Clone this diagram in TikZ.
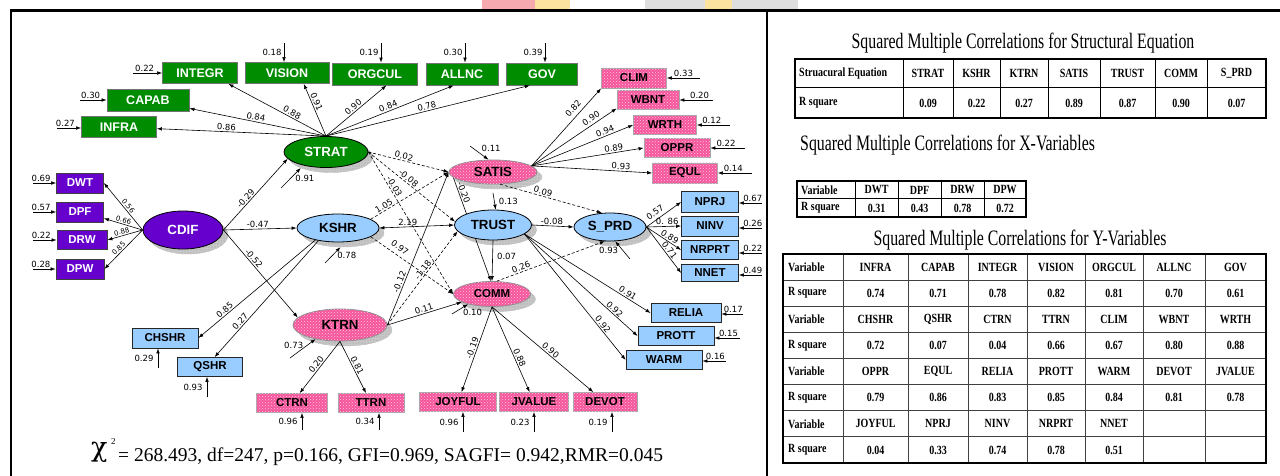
\documentclass[tikz,border=0pt]{standalone}
\usepackage{fontspec}
\setmainfont{Liberation Serif}
\newfontfamily\lsans{Liberation Sans}
\newfontfamily\dnum{DejaVu Sans}
\newfontfamily\chifont{DejaVu Serif}
\newfontfamily\condser[FakeStretch=0.72]{Liberation Serif}
\newfontfamily\condtab[FakeStretch=0.8]{Liberation Serif}
\usetikzlibrary{shapes.geometric,arrows.meta,patterns,calc}
\pgfdeclarelayer{bg}
\pgfsetlayers{bg,main}

\definecolor{sgreen}{RGB}{0,140,0}
\definecolor{spurple}{RGB}{102,0,204}
\definecolor{sblue}{RGB}{153,204,255}
\definecolor{spink}{RGB}{245,85,155}
\definecolor{spinklt}{RGB}{255,200,225}
\definecolor{shgray}{RGB}{190,190,190}
\definecolor{wmred}{RGB}{246,170,175}
\definecolor{wmyellow}{RGB}{252,228,160}
\definecolor{wmgray}{RGB}{222,222,222}

\tikzset{
  >={Latex[length=5pt,width=3.6pt]},
  conn/.style={->, line width=0.6pt},
  dconn/.style={conn, dash pattern=on 3pt off 2pt},
  err/.style={->, line width=0.6pt},
  lab/.style={font=\dnum\fontsize{8.5}{9}\selectfont, inner sep=1.2pt},
  slab/.style={lab, font=\dnum\fontsize{7}{8}\selectfont},
  boxbase/.style={rectangle, inner sep=0pt, line width=0.8pt, font=\lsans\bfseries\fontsize{11.5}{12}\selectfont},
  gbox/.style={boxbase, draw=black!55, fill=sgreen, text=white, font=\lsans\bfseries\fontsize{12.5}{13}\selectfont},
  pbox/.style={boxbase, draw=black!75, fill=spurple, text=white},
  bbox/.style={boxbase, draw=black!85, fill=sblue, text=black},
  kbox/.style={boxbase, draw=black!35, fill=spink, postaction={pattern=crosshatch dots, pattern color=spinklt}, text=black},
  ellbase/.style={ellipse, inner sep=0pt, line width=0.8pt, draw=black, font=\lsans\bfseries\fontsize{13.3}{14}\selectfont},
  gell/.style={ellbase, fill=sgreen, text=white},
  pell/.style={ellbase, fill=spurple, text=white},
  bell/.style={ellbase, fill=sblue},
  kell/.style={ellbase, draw=black!45, fill=spink, postaction={pattern=crosshatch dots, pattern color=spinklt}},
  shade/.style={ellipse, inner sep=0pt, fill=shgray, draw=black!25, postaction={pattern=grid, pattern color=black!22}},
  tcell/.style={font=\condtab\bfseries\fontsize{12.5}{13}\selectfont, inner sep=0pt},
  ttl/.style={font=\condser\fontsize{22}{24}\selectfont, inner sep=0pt},
  frame/.style={line width=2.4pt, black},
}

\begin{document}
\begin{tikzpicture}[x=1pt, y=-1pt]
\useasboundingbox (0,0) rectangle (1280,476);
\begin{pgfonlayer}{bg}
\fill[white] (0,0) rectangle (1280,476);
\end{pgfonlayer}

% faint header strip above the frame
\fill[wmred] (482,0) rectangle (535,9);
\fill[wmyellow] (535,0) rectangle (570,9);
\fill[wmgray] (645,0) rectangle (705,9);
\fill[wmyellow] (705,0) rectangle (732,9);
\fill[wmgray] (732,0) rectangle (798,9);

% panel frame
\draw[frame] (10,10.5) -- (1280,10.5);
\draw[frame] (11,10.5) -- (11,476);
\draw[frame] (767,10.5) -- (767,476);

% ---------------- latent variables
\node[gell, minimum width=84, minimum height=31] (strat) at (326,152) {STRAT};
\node[pell, minimum width=80, minimum height=38] (cdif) at (183,230) {CDIF};
\node[bell, minimum width=82, minimum height=28] (kshr) at (338,228) {KSHR};
\node[bell, minimum width=77, minimum height=30] (trust) at (493,225) {TRUST};
\node[kell, minimum width=88, minimum height=24] (satis) at (493,172) {SATIS};
\node[kell, minimum width=77, minimum height=25, font=\lsans\bfseries\fontsize{11.5}{12}\selectfont] (comm) at (492,294) {COMM};
\node[bell, minimum width=72, minimum height=28] (sprd) at (610,227) {S\_PRD};
\node[kell, minimum width=94, minimum height=32] (ktrn) at (340,325) {KTRN};

% ---------------- indicators
\node[gbox, minimum width=75, minimum height=21] (integr) at (200,73) {INTEGR};
\node[gbox, minimum width=84, minimum height=21] (vision) at (287,73) {VISION};
\node[gbox, minimum width=85, minimum height=22] (orgcul) at (375,74) {ORGCUL};
\node[gbox, minimum width=72, minimum height=22] (allnc) at (462,74) {ALLNC};
\node[gbox, minimum width=71, minimum height=22] (gov) at (542,74) {GOV};
\node[gbox, minimum width=82, minimum height=22] (capab) at (148,100) {CAPAB};
\node[gbox, minimum width=75, minimum height=21] (infra) at (119,127) {INFRA};

\node[pbox, minimum width=47, minimum height=20] (dwt) at (80,183) {DWT};
\node[pbox, minimum width=47, minimum height=20] (dpf) at (80,212) {DPF};
\node[pbox, minimum width=50, minimum height=19] (drw) at (82,240) {DRW};
\node[pbox, minimum width=48, minimum height=20] (dpw) at (80,269) {DPW};

\node[kbox, minimum width=65, minimum height=20] (clim) at (634,78) {CLIM};
\node[kbox, minimum width=62, minimum height=19] (wbnt) at (648,100) {WBNT};
\node[kbox, minimum width=63, minimum height=19] (wrth) at (665,125) {WRTH};
\node[kbox, minimum width=66, minimum height=19] (oppr) at (677,148) {OPPR};
\node[kbox, minimum width=65, minimum height=20] (equl) at (685,173) {EQUL};

\node[bbox, minimum width=57, minimum height=21] (nprj) at (710,202) {NPRJ};
\node[bbox, minimum width=57, minimum height=20] (ninv) at (710,226) {NINV};
\node[bbox, minimum width=57, minimum height=19] (nrprt) at (710,250) {NRPRT};
\node[bbox, minimum width=57, minimum height=17] (nnet) at (710,273) {NNET};
\node[bbox, minimum width=70, minimum height=19] (relia) at (686,313) {RELIA};
\node[bbox, minimum width=76, minimum height=19] (prott) at (676,336) {PROTT};
\node[bbox, minimum width=76, minimum height=19] (warm) at (664,360) {WARM};
\node[bbox, minimum width=66, minimum height=20] (chshr) at (165,338) {CHSHR};
\node[bbox, minimum width=65, minimum height=19] (qshr) at (210,367) {QSHR};

\node[kbox, minimum width=71, minimum height=19] (ctrn) at (292,403) {CTRN};
\node[kbox, minimum width=66, minimum height=19] (ttrn) at (371,403) {TTRN};
\node[kbox, minimum width=77, minimum height=19] (joyful) at (458,402) {JOYFUL};
\node[kbox, minimum width=69, minimum height=19] (jvalue) at (534,402) {JVALUE};
\node[kbox, minimum width=64, minimum height=19] (devot) at (605,402) {DEVOT};

% ---------------- shadows and the path that runs behind TRUST
\begin{pgfonlayer}{bg}
\foreach \n/\w/\h in {strat/84/31, cdif/80/38, kshr/82/28, trust/77/30, satis/88/24, comm/77/25, sprd/72/28, ktrn/94/32}
  \node[shade, minimum width=\w, minimum height=\h] (\n-sh) at ([shift={(5,5)}]\n.center) {};
\draw[conn] (satis.188) -- (comm.95) node[lab, pos=.16, sloped, above] {-0.20};
\end{pgfonlayer}

% ---------------- measurement paths
\draw[conn] (strat.north) -- (infra) node[lab, pos=.59, sloped, above] {0.86};
\draw[conn] (strat.north) -- (capab) node[lab, pos=.52, sloped, above] {0.84};
\draw[conn] (strat.north) -- (integr.-21) node[lab, pos=.37, sloped, above] {0.88};
\draw[conn] (strat.north) -- (vision.-33) node[lab, pos=.62, sloped, above] {0.91};
\draw[conn] (strat.north) -- (orgcul.-45) node[lab, pos=.5, sloped, above] {0.90};
\draw[conn] (strat.north) -- (allnc.-126) node[lab, pos=.5, sloped, above] {0.84};
\draw[conn] (strat.north) -- (gov.-137) node[lab, pos=.5, sloped, above] {0.78};

\draw[conn] (cdif.west) -- (dwt.east) node[slab, pos=.45, sloped, above] {0.56};
\draw[conn] (cdif.west) -- (dpf.-15) node[slab, pos=.52, sloped, above] {0.66};
\draw[conn] (cdif.west) -- (drw.east) node[slab, pos=.56, sloped, above] {0.88};
\draw[conn] (cdif.west) -- (dpw.east) node[slab, pos=.55, sloped, above] {0.85};

\draw[conn] (cdif.east) -- (strat.190) node[lab, pos=.4, sloped, above] {-0.29};
\draw[conn] (cdif.east) -- (kshr.west) node[lab, pos=.47, above] {-0.47};
\draw[conn] (cdif.east) -- (ktrn.170) node[lab, pos=.36, sloped, above] {-0.52};

\draw[conn] (kshr.-152) -- (chshr.east) node[lab, pos=.75, sloped, above] {0.85};
\draw[conn] (kshr.-147) -- (qshr.65) node[lab, pos=.72, sloped, above] {0.27};

\draw[conn] (ktrn.south) -- (ctrn) node[lab, pos=.5, sloped, above] {0.20};
\draw[conn] (ktrn.south) -- (ttrn) node[lab, pos=.5, sloped, above] {0.81};

\draw[conn] (comm.south) -- (joyful) node[lab, pos=.5, sloped, above] {-0.19};
\draw[conn] (comm.south) -- (jvalue) node[lab, pos=.62, sloped, above] {0.88};
\draw[conn] (comm.south) -- (devot) node[lab, pos=.55, sloped, above] {0.90};

\draw[conn] (satis.9) -- (clim.south west) node[lab, pos=.68, sloped, above=3pt] {0.82};
\draw[conn] (satis.9) -- (wbnt.195) node[lab, pos=.74, sloped, above=1.5pt] {0.90};
\draw[conn] (satis.9) -- (wrth.west) node[lab, pos=.74, sloped, above] {0.94};
\draw[conn] (satis.9) -- (oppr.west) node[lab, pos=.74, sloped, above] {0.89};
\draw[conn] (satis.9) -- (equl.west) node[lab, pos=.74, sloped, above] {0.93};

\draw[conn] (sprd.east) -- (nprj.west) node[lab, pos=.36, sloped, above=2pt] {0.57};
\draw[conn] (sprd.east) -- (ninv.west) node[lab, pos=.6, above] {0. 86};
\draw[conn] (sprd.east) -- (nrprt.west) node[lab, pos=.6, sloped, above=0pt] {0.89};
\draw[conn] (sprd.east) -- (nnet.west) node[lab, pos=.56, sloped, above=0pt] {0.71};

\draw[conn] (trust.-16) -- (relia.west) node[lab, pos=.8, sloped, above] {0.91};
\draw[conn] (trust.-16) -- (prott.west) node[lab, pos=.77, sloped, above] {0.92};
\draw[conn] (trust.-16) -- (warm.west) node[lab, pos=.74, sloped, above] {0.92};

% ---------------- structural paths
\draw[dconn] (strat.east) -- (satis.west) node[lab, pos=.43, sloped, above] {0.02};
\draw[dconn] (strat.east) -- (trust.175) node[lab, pos=.43, sloped, above] {-0.08};
\draw[dconn] (strat.east) -- (comm.west) node[lab, pos=.26, sloped, above] {-0.03};
\draw[dconn] (kshr.15) -- (satis.west) node[lab, pos=.2, sloped, above] {1.05};
\draw[conn, <->] (kshr.east) -- (trust.west) node[lab, pos=.38, above] {2.19};
\draw[dconn] (kshr.-15) -- (comm.west) node[lab, pos=.3, sloped, above=3pt] {0.97};
\draw[conn] (ktrn.east) -- (satis.west) node[lab, pos=.27, sloped, above] {-0.12};
\draw[dconn] (ktrn.east) -- (trust.190) node[lab, pos=.56, sloped, above] {-1.18};
\draw[conn] (ktrn.east) -- (comm.195) node[lab, pos=.51, sloped, above] {0.11};
\draw[conn] (trust.south) -- (comm.north) node[lab, pos=.4, right=3pt] {0.07};
\draw[dconn] (satis.-60) -- (sprd.120) node[lab, pos=.41, sloped, above] {0.09};
\draw[conn] (trust.east) -- (sprd.west) node[lab, pos=.48, above] {-0.08};
\draw[dconn] (comm.70) -- (sprd.-110) node[lab, pos=.24, sloped, above] {0.26};

% ---------------- residual terms of the latent variables
\coordinate (r-strat) at (281,188);
\coordinate (r-kshr) at (325,263);
\coordinate (r-satis) at (470,146);
\coordinate (r-trust) at (493,193);
\coordinate (r-comm) at (452,314);
\coordinate (r-sprd) at (630,259);
\coordinate (r-ktrn) at (290,358);
\draw[err] (r-strat) -- (strat-sh.-160) node[lab, pos=.5, right=3pt] {0.91};
\draw[err] (r-kshr) -- (kshr-sh.-100) node[lab, pos=.5, right=3pt] {0.78};
\draw[err] (r-satis) -- (satis.110) node[lab, pos=.55, above right=0pt] {0.11};
\draw[err] (r-trust) -- (trust.80) node[lab, pos=.5, right=3pt] {0.13};
\draw[err] (r-comm) -- (comm.-157) node[lab, pos=.6, below right=0pt] {0.10};
\draw[err] (r-sprd) -- (sprd.-70) node[lab, pos=.5, left=3pt] {0.93};
\draw[err] (r-ktrn) -- (ktrn.-150) node[lab, pos=.65, left=2pt] {0.73};

% ---------------- error terms of the indicators
% entering from the left
\foreach \n/\x/\y/\v/\p in {integr/133/73/0.22/.4, capab/80/100/0.30/.4, infra/57/128/0.27/.35,
    dwt/33/183/0.69/.35, dpf/33/212/0.57/.35, drw/33/240/0.22/.35, dpw/33/269/0.28/.35} {
  \coordinate (r-\n) at (\x,\y);
  \draw[err] (r-\n) -- (r-\n -| \n.west) node[lab, pos=\p, above, inner sep=0.8pt] {\v};
}
% entering from the right
\foreach \n/\x/\y/\v/\p in {clim/700/78/0.33/.5, wbnt/713/100/0.20/.4, wrth/730/125/0.12/.55,
    oppr/745/148/0.22/.55, equl/752/173/0.14/.55,
    nprj/762/203/0.67/.4, ninv/762/228/0.26/.4, nrprt/762/253/0.22/.4, nnet/762/275/0.49/.4,
    relia/743/314/0.17/.45, prott/740/338/0.15/.45, warm/726/361/0.16/.45} {
  \coordinate (r-\n) at (\x,\y);
  \draw[err] (r-\n) -- (r-\n -| \n.east) node[lab, pos=\p, above, inner sep=0.8pt] {\v};
}
% entering from above
\foreach \n/\x/\y/\v in {vision/284/43/0.18, orgcul/381/43/0.19, allnc/465/43/0.30, gov/545/43/0.39}
  {\coordinate (r-\n) at (\x,\y);
   \draw[err] (r-\n) -- (r-\n |- \n.north) node[lab, midway, left=1pt] {\v};}
% entering from below
\foreach \n/\x/\y/\v in {chshr/158/368/0.29, qshr/207/397/0.93, ctrn/302/430/0.96, ttrn/379/430/0.34,
    joyful/463/432/0.96, jvalue/534/432/0.23, devot/612/432/0.19}
  {\coordinate (r-\n) at (\x,\y);
   \draw[err] (r-\n) -- (r-\n |- \n.south) node[lab, midway, left=3pt] {\v};}

% ---------------- fit statistics
\node[anchor=base west, inner sep=0pt, font=\chifont\fontsize{27}{27}\selectfont] (chi) at (91,456) {χ};
\node[anchor=base west, inner sep=0pt, font=\fontsize{9}{9}\selectfont] (chisup) at (111,444) {2};
\node[anchor=base west, inner sep=0pt, font=\fontsize{19.5}{20}\selectfont] (fit) at (118,461)
  {= 268.493, df=247, p=0.166, GFI=0.969, SAGFI= 0.942,RMR=0.045};

% ---------------- squared multiple correlations: structural equations
\node[ttl] (title1) at (1023,43) {Squared Multiple Correlations for Structural Equation};
\def\tAx{{795,903,953,1000,1048,1100,1155,1207,1266}}
\foreach \x in {903,953,1000,1048,1100,1155,1207} \draw[line width=0.9pt] (\x,59) -- (\x,118);
\draw[line width=0.9pt] (795,87) -- (1266,87);
\draw[line width=1.6pt] (795,59) rectangle (1266,118);
\node[tcell, anchor=west] (sa-h1) at (799,73) {Struacural Equation};
\node[tcell, anchor=west] (sa-v1) at (799,103) {R square};
\foreach \h/\v [count=\c from 2] in {STRAT/0.09, KSHR/0.22, KTRN/0.27, SATIS/0.89, TRUST/0.87, COMM/0.90, S\_PRD/0.07} {
  \pgfmathsetmacro\xl{\tAx[\c-1]}
  \pgfmathsetmacro\xr{\tAx[\c]}
  \node[tcell] (sa-h\c) at ({(\xl+\xr)/2},73) {\h};
  \node[tcell] (sa-v\c) at ({(\xl+\xr)/2},103) {\v};
}

% ---------------- squared multiple correlations: X-variables
\node[ttl, anchor=west] (title2) at (800,145) {Squared Multiple Correlations for X-Variables};
\def\tBx{{797,855,898,941,984,1026}}
\foreach \x in {855,898,941,984} \draw[line width=0.9pt] (\x,181) -- (\x,217);
\draw[line width=0.9pt] (797,198) -- (1026,198);
\draw[line width=1.6pt] (797,181) rectangle (1026,217);
\node[tcell, anchor=west] (sb-h1) at (801,190) {Variable};
\node[tcell, anchor=west] (sb-v1) at (801,208) {R square};
\foreach \h/\v [count=\c from 2] in {DWT/0.31, DPF/0.43, DRW/0.78, DPW/0.72} {
  \pgfmathsetmacro\xl{\tBx[\c-1]}
  \pgfmathsetmacro\xr{\tBx[\c]}
  \node[tcell] (sb-h\c) at ({(\xl+\xr)/2},190) {\h};
  \node[tcell] (sb-v\c) at ({(\xl+\xr)/2},208) {\v};
}

% ---------------- squared multiple correlations: Y-variables
\node[ttl] (title3) at (1020,240) {Squared Multiple Correlations for Y-Variables};
\def\tCx{{783,843,908,968,1027,1085,1143,1205,1266}}
\foreach \x in {843,908,968,1027,1085,1143,1205} \draw[line width=0.9pt, black!75] (\x,254) -- (\x,463);
\foreach \k in {1,...,7} \draw[line width=0.9pt, black!75] (783,{254+26.125*\k}) -- (1266,{254+26.125*\k});
\draw[line width=1.6pt] (783,254) rectangle (1266,463);
\foreach \row [count=\r] in {
    {Variable,INFRA,CAPAB,INTEGR,VISION,ORGCUL,ALLNC,GOV},
    {R square,0.74,0.71,0.78,0.82,0.81,0.70,0.61},
    {Variable,CHSHR,QSHR,CTRN,TTRN,CLIM,WBNT,WRTH},
    {R square,0.72,0.07,0.04,0.66,0.67,0.80,0.88},
    {Variable,OPPR,EQUL,RELIA,PROTT,WARM,DEVOT,JVALUE},
    {R square,0.79,0.86,0.83,0.85,0.84,0.81,0.78},
    {Variable,JOYFUL,NPRJ,NINV,NRPRT,NNET},
    {R square,0.04,0.33,0.74,0.78,0.51}} {
  \pgfmathsetmacro\yc{254+26.125*(\r-0.5)}
  \foreach \t [count=\c] in \row {
    \pgfmathsetmacro\xl{\tCx[\c-1]}
    \pgfmathsetmacro\xr{\tCx[\c]}
    \ifnum\c=1
      \node[tcell, anchor=west] (sc-\r-\c) at (\xl+5,\yc) {\t};
    \else
      \node[tcell] (sc-\r-\c) at ({(\xl+\xr)/2},\yc) {\t};
    \fi
  }
}
\end{tikzpicture}
\end{document}
